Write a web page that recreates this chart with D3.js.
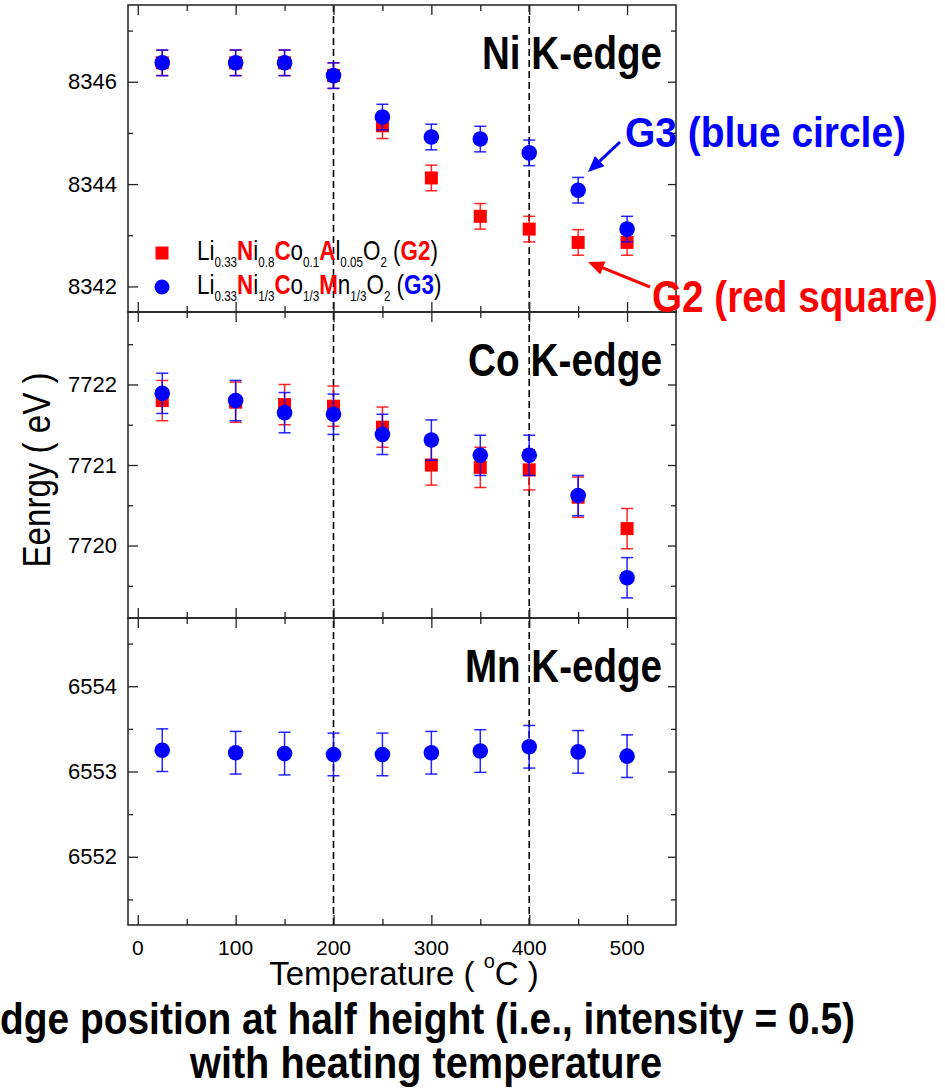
<!DOCTYPE html>
<html>
<head>
<meta charset="utf-8">
<script src="https://cdn.jsdelivr.net/npm/d3@7"></script>
<style>
  html, body { margin: 0; padding: 0; background: #fff; }
  svg { display: block; font-family: "Liberation Sans", Arial, sans-serif; }
</style>
</head>
<body>
<svg id="chart" width="945" height="1089"></svg>
<script>
// ---------------- data ----------------
const temps = [25, 100, 150, 200, 250, 300, 350, 400, 450, 500];

const niG2 = [8346.37, 8346.37, 8346.37, 8346.12, 8345.14, 8344.12, 8343.37, 8343.12, 8342.86, 8342.86];
const niG3 = [8346.37, 8346.37, 8346.37, 8346.12, 8345.31, 8344.92, 8344.88, 8344.61, 8343.88, 8343.12];
const niG2Err = [0.25, 0.25, 0.25, 0.25, 0.25, 0.25, 0.25, 0.25, 0.25, 0.25];
const niG3Err = [0.25, 0.25, 0.25, 0.25, 0.25, 0.25, 0.25, 0.25, 0.25, 0.25];

const coG2 = [7721.80, 7721.78, 7721.75, 7721.73, 7721.47, 7721.00, 7720.97, 7720.94, 7720.60, 7720.21];
const coG3 = [7721.89, 7721.80, 7721.65, 7721.63, 7721.38, 7721.31, 7721.12, 7721.12, 7720.62, 7719.60];
const coG2Err = [0.25, 0.25, 0.25, 0.25, 0.25, 0.25, 0.25, 0.25, 0.25, 0.25];
const coG3Err = [0.25, 0.25, 0.25, 0.25, 0.25, 0.25, 0.25, 0.25, 0.25, 0.25];

const mnG3 = [6553.25, 6553.22, 6553.21, 6553.20, 6553.20, 6553.22, 6553.24, 6553.29, 6553.23, 6553.18];
const mnG3Err = [0.25, 0.25, 0.25, 0.25, 0.25, 0.25, 0.25, 0.25, 0.25, 0.25];

const xMajorTicks = [0, 100, 200, 300, 400, 500];
const xMinorTicks = [50, 150, 250, 350, 450];
const dashedTemps = [200, 400];

const panelTitles = ["Ni K-edge", "Co K-edge", "Mn K-edge"];
const niMajor = [8342, 8344, 8346], niMinor = [8343, 8345, 8347];
const coMajor = [7720, 7721, 7722], coMinor = [7719.5, 7720.5, 7721.5, 7722.5];
const mnMajor = [6552, 6553, 6554], mnMinor = [6551.5, 6552.5, 6553.5, 6554.5];

const yTitle = "Eenrgy ( eV )";
const xTitle = "Temperature ( ";
const title1 = "Edge position at half height (i.e., intensity = 0.5)";
const title2 = "with heating temperature";

// ---------------- layout ----------------
const RED = "#ff0000", BLUE = "#0000ff";
const L = 128, R = 676;
const tops = [5, 312, 618], bottoms = [312, 618, 925];
const svg = d3.select("#chart");

const x = d3.scaleLinear().domain([-10, 550]).range([L, R]);

const panels = [
  { domain: [8341.5, 8347.5], major: niMajor, minor: niMinor, title: panelTitles[0], tl: 180,
    series: [ { v: niG2, e: niG2Err, c: RED, shape: "sq" }, { v: niG3, e: niG3Err, c: BLUE, shape: "ci" } ] },
  { domain: [7719.1, 7722.9], major: coMajor, minor: coMinor, title: panelTitles[1], tl: 194,
    series: [ { v: coG2, e: coG2Err, c: RED, shape: "sq" }, { v: coG3, e: coG3Err, c: BLUE, shape: "ci" } ] },
  { domain: [6551.2, 6554.8], major: mnMajor, minor: mnMinor, title: panelTitles[2], tl: 197,
    series: [ { v: mnG3, e: mnG3Err, c: BLUE, shape: "ci" } ] }
];

// dashed vertical lines (across all panels)
svg.selectAll("line.dash").data(dashedTemps).join("line")
  .attr("x1", d => x(d)).attr("x2", d => x(d))
  .attr("y1", tops[0]).attr("y2", bottoms[2])
  .attr("stroke", "#000").attr("stroke-width", 1.6).attr("stroke-dasharray", "7,4");

panels.forEach((p, i) => {
  const y = d3.scaleLinear().domain(p.domain).range([bottoms[i], tops[i]]);
  const g = svg.append("g");

  // left axis major
  const la = g.append("g").attr("transform", `translate(${L},0)`)
    .call(d3.axisLeft(y).tickValues(p.major).tickSizeInner(-10).tickSizeOuter(0).tickPadding(11).tickFormat(d3.format("d")));
  la.select(".domain").remove();
  la.selectAll("line").attr("stroke", "#222").attr("stroke-width", 1.3);
  la.selectAll("text").attr("font-size", 22).attr("fill", "#000").attr("font-family", "Liberation Sans, Arial, sans-serif");
  const lm = g.append("g").attr("transform", `translate(${L},0)`)
    .call(d3.axisLeft(y).tickValues(p.minor).tickSizeInner(-5).tickSizeOuter(0).tickFormat(""));
  lm.select(".domain").remove();
  lm.selectAll("line").attr("stroke", "#222").attr("stroke-width", 1.3);

  // right axis
  [[p.major, -8], [p.minor, -5]].forEach(([tv, ts]) => {
    const ra = g.append("g").attr("transform", `translate(${R},0)`)
      .call(d3.axisRight(y).tickValues(tv).tickSizeInner(ts).tickSizeOuter(0).tickFormat(""));
    ra.select(".domain").remove();
    ra.selectAll("line").attr("stroke", "#222").attr("stroke-width", 1.3);
  });

  // top & bottom x ticks (inward)
  [[xMajorTicks, -10], [xMinorTicks, -6]].forEach(([tv, ts]) => {
    const ba = g.append("g").attr("transform", `translate(0,${bottoms[i]})`)
      .call(d3.axisBottom(x).tickValues(tv).tickSizeInner(ts).tickSizeOuter(0).tickFormat(""));
    ba.select(".domain").remove();
    ba.selectAll("line").attr("stroke", "#222").attr("stroke-width", 1.3);
    const ta = g.append("g").attr("transform", `translate(0,${tops[i]})`)
      .call(d3.axisTop(x).tickValues(tv).tickSizeInner(ts).tickSizeOuter(0).tickFormat(""));
    ta.select(".domain").remove();
    ta.selectAll("line").attr("stroke", "#222").attr("stroke-width", 1.3);
  });

  // frame
  g.append("rect").attr("x", L).attr("y", tops[i]).attr("width", R - L).attr("height", bottoms[i] - tops[i])
    .attr("fill", "none").attr("stroke", "#222").attr("stroke-width", 1.5);

  // panel title
  g.append("text").attr("x", 662).attr("y", tops[i] + 64).attr("text-anchor", "end")
    .attr("font-size", 47).attr("font-weight", "bold").attr("fill", "#000")
    .attr("textLength", p.tl).attr("lengthAdjust", "spacingAndGlyphs")
    .text(p.title);

  // series
  p.series.forEach(s => {
    const pts = temps.map((t, k) => ({ t, v: s.v[k], e: s.e[k] }));
    const eg = g.append("g").attr("stroke", s.c).attr("stroke-width", 1.5).attr("stroke-opacity", 0.85);
    eg.selectAll("line.v").data(pts).join("line")
      .attr("x1", d => x(d.t)).attr("x2", d => x(d.t))
      .attr("y1", d => y(d.v - d.e)).attr("y2", d => y(d.v + d.e));
    eg.selectAll("line.t").data(pts).join("line")
      .attr("x1", d => x(d.t) - 6).attr("x2", d => x(d.t) + 6)
      .attr("y1", d => y(d.v + d.e)).attr("y2", d => y(d.v + d.e));
    eg.selectAll("line.b").data(pts).join("line")
      .attr("x1", d => x(d.t) - 6).attr("x2", d => x(d.t) + 6)
      .attr("y1", d => y(d.v - d.e)).attr("y2", d => y(d.v - d.e));
    if (s.shape === "sq") {
      g.selectAll(null).data(pts).join("rect")
        .attr("x", d => x(d.t) - 6.5).attr("y", d => y(d.v) - 6.5)
        .attr("width", 13).attr("height", 13).attr("fill", s.c);
    } else {
      g.selectAll(null).data(pts).join("circle")
        .attr("cx", d => x(d.t)).attr("cy", d => y(d.v)).attr("r", 7.8).attr("fill", s.c);
    }
  });
});

// bottom x labels
svg.append("g").selectAll("text").data(xMajorTicks).join("text")
  .attr("x", d => x(d)).attr("y", 955).attr("text-anchor", "middle")
  .attr("font-size", 21).attr("fill", "#000").text(d => d);

// x title
const xt = svg.append("text").attr("x", 404).attr("y", 985).attr("text-anchor", "middle")
  .attr("font-size", 33).attr("fill", "#000");
xt.append("tspan").text(xTitle);
xt.append("tspan").attr("font-size", 20).attr("dy", -17).text("o");
xt.append("tspan").attr("dy", 17).text("C )");

// y title
svg.append("text").attr("transform", "translate(50,470) rotate(-90)")
  .attr("text-anchor", "middle").attr("font-size", 38).attr("fill", "#000")
  .attr("textLength", 195).attr("lengthAdjust", "spacingAndGlyphs").text(yTitle);

// bottom titles
svg.append("text").attr("x", -26).attr("y", 1034).attr("font-size", 45).attr("font-weight", "bold")
  .attr("fill", "#000").attr("textLength", 881).attr("lengthAdjust", "spacingAndGlyphs").text(title1);
svg.append("text").attr("x", 190).attr("y", 1078).attr("font-size", 45).attr("font-weight", "bold")
  .attr("fill", "#000").attr("textLength", 472).attr("lengthAdjust", "spacingAndGlyphs").text(title2);

// legend
const legendRows = [
  { marker: "sq", color: RED, y: 260, segs: [
    ["Li"], ["0.33", "sub"], ["N", "b", RED], ["i"], ["0.8", "sub"], ["C", "b", RED], ["o"], ["0.1", "sub"],
    ["A", "b", RED], ["l"], ["0.05", "sub"], ["O"], ["2", "sub"], [" ("], ["G2", "b", RED], [")"] ] },
  { marker: "ci", color: BLUE, y: 294, segs: [
    ["Li"], ["0.33", "sub"], ["N", "b", RED], ["i"], ["1/3", "sub"], ["C", "b", RED], ["o"], ["1/3", "sub"],
    ["M", "b", RED], ["n"], ["1/3", "sub"], ["O"], ["2", "sub"], [" ("], ["G3", "b", BLUE], [")"] ] }
];
legendRows.forEach(row => {
  if (row.marker === "sq") {
    svg.append("rect").attr("x", 162 - 6.5).attr("y", row.y - 7 - 6.5).attr("width", 13).attr("height", 13).attr("fill", row.color);
  } else {
    svg.append("circle").attr("cx", 162).attr("cy", row.y - 7).attr("r", 7.5).attr("fill", row.color);
  }
  const t = svg.append("g").attr("transform", `translate(197,${row.y}) scale(0.83,1)`)
    .append("text").attr("x", 0).attr("y", 0).attr("font-size", 27).attr("fill", "#000");
  let inSub = false;
  row.segs.forEach(([txt, kind, col]) => {
    const ts = t.append("tspan").text(txt).style("white-space", "pre");
    if (kind === "sub") {
      ts.attr("font-size", 14).attr("dy", inSub ? 0 : 7);
      inSub = true;
    } else {
      if (inSub) ts.attr("dy", -7);
      inSub = false;
      if (kind === "b") ts.attr("font-weight", "bold");
      if (col) ts.attr("fill", col);
    }
  });
  t.attr("xml:space", "preserve");
});

// annotations
function arrow(x1, y1, x2, y2, color) {
  const ang = Math.atan2(y2 - y1, x2 - x1);
  const len = 16, w = 7;
  const bx = x2 - len * Math.cos(ang), by = y2 - len * Math.sin(ang);
  svg.append("line").attr("x1", x1).attr("y1", y1).attr("x2", bx).attr("y2", by)
    .attr("stroke", color).attr("stroke-width", 3);
  const px = -Math.sin(ang) * w, py = Math.cos(ang) * w;
  svg.append("path").attr("d", `M${x2},${y2}L${bx + px},${by + py}L${bx - px},${by - py}Z`).attr("fill", color);
}
svg.append("text").attr("x", 625).attr("y", 147).attr("font-size", 42).attr("font-weight", "bold")
  .attr("fill", BLUE).attr("textLength", 281).attr("lengthAdjust", "spacingAndGlyphs").text("G3 (blue circle)");
arrow(620, 142, 588, 172, BLUE);
svg.append("text").attr("x", 652).attr("y", 312).attr("font-size", 44).attr("font-weight", "bold")
  .attr("fill", RED).attr("textLength", 286).attr("lengthAdjust", "spacingAndGlyphs").text("G2 (red square)");
arrow(650, 287, 588, 262, RED);
</script>
</body>
</html>
